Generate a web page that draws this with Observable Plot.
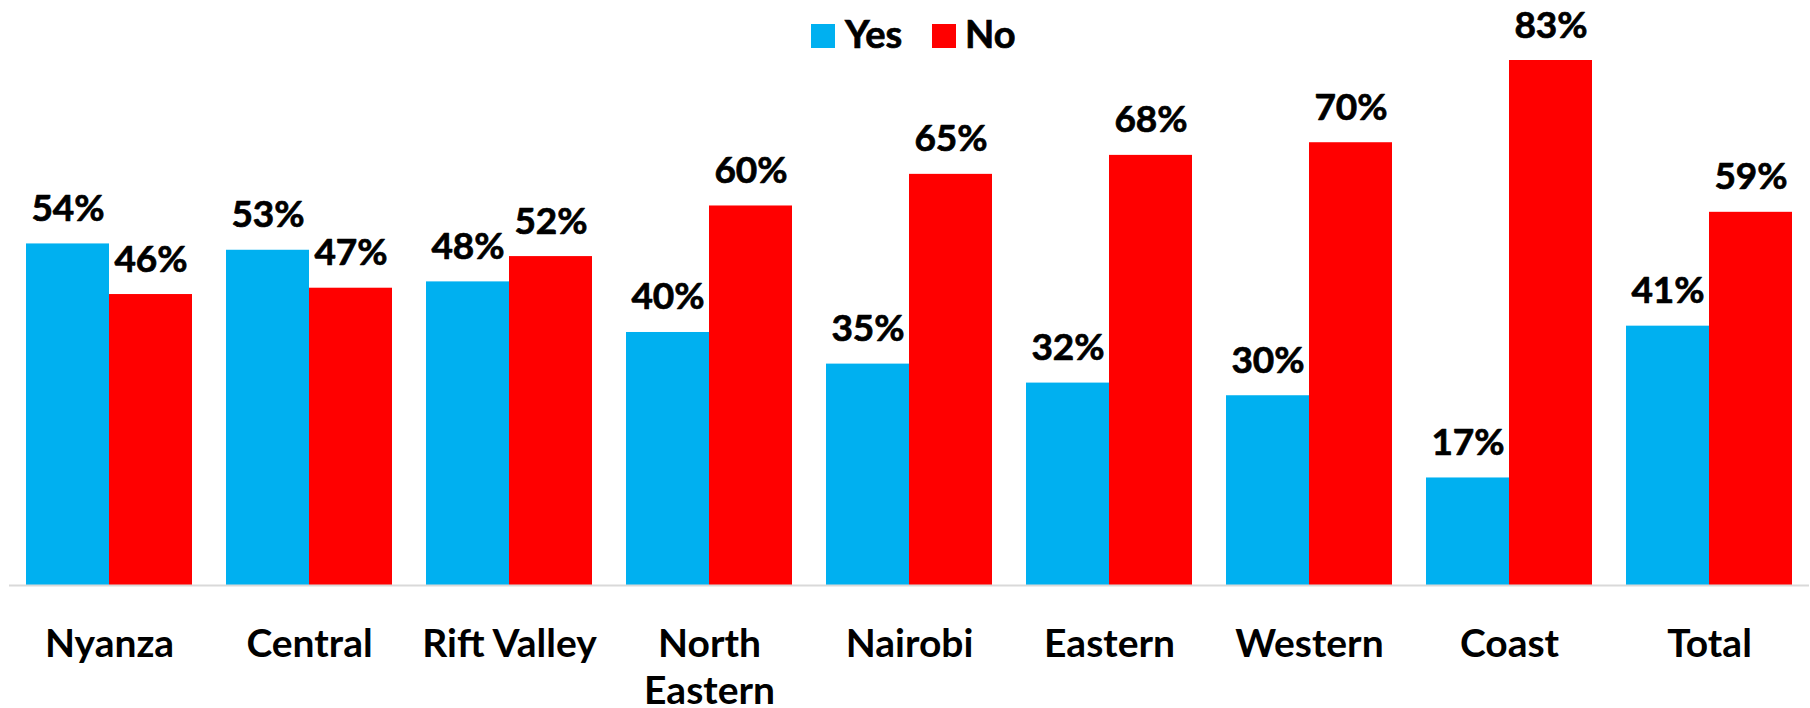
<!DOCTYPE html>
<html><head><meta charset="utf-8">
<script src="https://cdn.jsdelivr.net/npm/d3@7"></script>
<script src="https://cdn.jsdelivr.net/npm/@observablehq/plot@0.6"></script>
<style>
html,body{margin:0;padding:0;background:#fff;overflow:hidden}
#wrap{position:relative;width:1810px;height:708px;font-family:Lato, sans-serif;font-weight:bold}
.sw{position:absolute;width:24px;height:24px;top:24px}
.lt{position:absolute;font-size:38px;line-height:38px;top:14px;color:#000;-webkit-text-stroke:0.7px #000}
</style></head><body>
<div id="wrap">
  <div class="sw" style="left:811px;background:#00B0F0"></div>
  <div class="lt" style="left:845px">Yes</div>
  <div class="sw" style="left:932px;background:#FF0000"></div>
  <div class="lt" style="left:965px">No</div>
</div>
<script>
const regions = ["Nyanza","Central","Rift Valley","North Eastern","Nairobi","Eastern","Western","Coast","Total"];
const yesValues = [54,53,48,40,35,32,30,17,41];
const noValues = [46,47,52,60,65,68,70,83,59];
const answers = ["Yes","No"];
const colors = ["#00B0F0","#FF0000"];
const data = regions.flatMap((r,i)=>[
  {region:r, answer:"Yes", value:yesValues[i]},
  {region:r, answer:"No", value:noValues[i]}
]);
const chart = Plot.plot({
  width:1810, height:708, marginTop:60, marginBottom:123, marginLeft:8, marginRight:0,
  style:{fontFamily:"Lato, sans-serif", fontWeight:"bold", fontSize:"37px", color:"#000", background:"transparent", overflow:"visible"},
  fx:{domain:regions, paddingInner:0.168, paddingOuter:0.084, label:null, axis:null},
  x:{domain:answers, padding:0, axis:null},
  y:{domain:[0,83], axis:null},
  color:{domain:answers, range:colors},
  marks:[
    Plot.barY(data,{fx:"region", x:"answer", y:"value", fill:"answer"}),
    Plot.ruleY([0],{stroke:"#d9d9d9", strokeWidth:2, insetLeft:-17, insetRight:-17}),
    Plot.text(data,{fx:"region", x:"answer", y:"value", text:d=>d.value+"%", lineAnchor:"bottom", dy:-23,
      fill:"#000", stroke:"#000", strokeWidth:0.7, fontSize:37}),
    Plot.axisFx({anchor:"bottom", tickSize:0, tickPadding:38, lineHeight:1.2, label:null,
      fill:"#000", stroke:"#000", strokeWidth:0.7, fontSize:39,
      tickFormat:d=>d==="North Eastern"?"North\nEastern":d})
  ]
});
chart.style.position="absolute";
chart.style.left="0";
chart.style.top="0";
document.getElementById("wrap").appendChild(chart);
</script>
</body></html>
